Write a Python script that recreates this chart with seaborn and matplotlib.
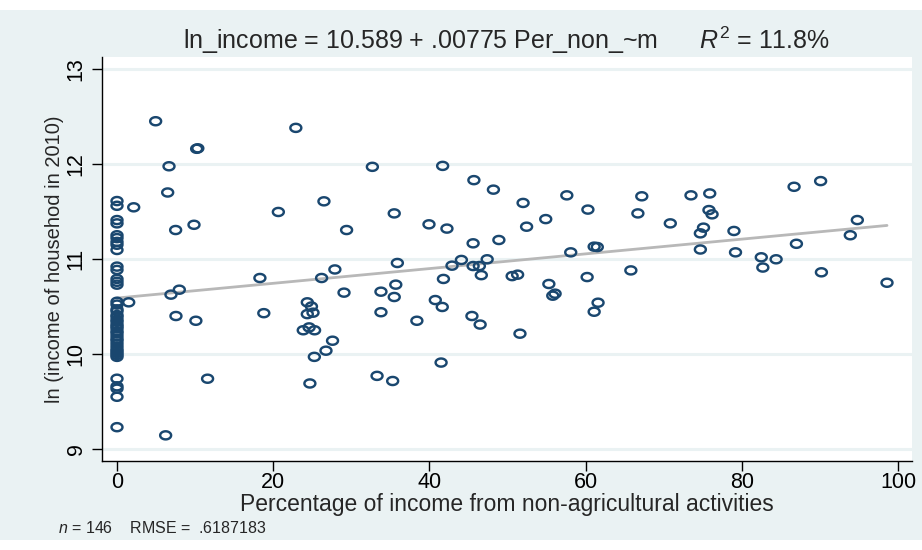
import numpy as np
import pandas as pd
import matplotlib
matplotlib.use("Agg")
import matplotlib.pyplot as plt
from matplotlib.path import Path
from matplotlib.patches import Rectangle
import seaborn as sns

# Households with no non-agricultural income (share = 0)
zero_share_ln_income = [
    11.61, 11.56, 11.41, 11.375, 11.25, 11.22, 11.18, 11.15, 11.095, 10.92,
    10.885, 10.79, 10.76, 10.73, 10.55,
    10.52, 10.47, 10.45, 10.41, 10.39, 10.36, 10.34, 10.31, 10.29, 10.27,
    10.24, 10.22, 10.19, 10.16, 10.14, 10.11, 10.08, 10.05, 10.03, 10.01,
    9.99, 9.97,
    9.74, 9.66, 9.635, 9.55, 9.23,
]

# Households with some non-agricultural income
share_nonag = [
    4.95, 22.9, 10.2, 10.35, 6.66, 6.49, 2.14, 20.66, 26.5, 7.51,
    9.86, 27.9, 1.5, 6.91, 7.98, 18.3, 26.2, 7.55, 10.1, 18.8,
    24.37, 24.9, 24.37, 25.1, 23.85, 24.6, 25.3, 27.6, 26.76, 25.27,
    24.7, 11.6, 6.23, 32.7, 41.7, 45.7, 48.2, 57.6, 52.0, 35.5,
    54.9, 29.4, 39.95, 42.25, 52.45, 45.6, 48.9, 58.1, 35.9, 42.9,
    44.1, 47.4, 45.6, 46.4, 46.65, 50.6, 51.3, 41.8, 29.07, 33.8,
    35.7, 35.5, 40.76, 41.65, 33.8, 38.4, 45.45, 46.5, 51.6, 55.3,
    55.8, 56.1, 41.5, 33.3, 35.3, 60.3, 67.2, 66.7, 73.5, 75.9,
    75.8, 76.2, 70.85, 75.1, 74.7, 79.0, 86.7, 90.1, 94.8, 93.9,
    87.0, 74.7, 79.2, 61.1, 61.5, 82.5, 84.4, 82.7, 60.2, 65.8,
    90.2, 98.6, 61.6, 61.1,
]
nonzero_ln_income = [
    12.45, 12.38, 12.16, 12.165, 11.976, 11.70, 11.544, 11.495, 11.607, 11.305,
    11.36, 10.89, 10.544, 10.625, 10.677, 10.80, 10.80, 10.40, 10.35, 10.43,
    10.544, 10.50, 10.42, 10.435, 10.25, 10.28, 10.25, 10.14, 10.035, 9.97,
    9.69, 9.74, 9.144, 11.97, 11.98, 11.83, 11.73, 11.67, 11.59, 11.48,
    11.42, 11.305, 11.365, 11.32, 11.34, 11.165, 11.20, 11.07, 10.958, 10.93,
    10.99, 10.997, 10.926, 10.926, 10.83, 10.82, 10.835, 10.79, 10.646, 10.656,
    10.73, 10.60, 10.568, 10.495, 10.44, 10.35, 10.40, 10.31, 10.214, 10.737,
    10.614, 10.635, 9.91, 9.77, 9.716, 11.52, 11.66, 11.48, 11.67, 11.69,
    11.515, 11.47, 11.375, 11.33, 11.27, 11.295, 11.76, 11.82, 11.41, 11.25,
    11.16, 11.10, 11.07, 11.13, 11.126, 11.018, 10.997, 10.91, 10.81, 10.88,
    10.86, 10.75, 10.54, 10.445,
]

# Fitted regression reported in the title
intercept = 10.589
slope = 0.00775
r_squared = 11.8
n_obs = 146
rmse = ".6187183"

x_ticks = [0, 20, 40, 60, 80, 100]
y_ticks = [9, 10, 11, 12, 13]

df = pd.DataFrame({
    "share": [0.0] * len(zero_share_ln_income) + share_nonag,
    "ln_income": zero_share_ln_income + nonzero_ln_income,
})
fit_x = np.array([0.0, max(df["share"])])
fit = pd.DataFrame({"share": fit_x, "ln_income": intercept + slope * fit_x})

sns.set_theme(style="white")
plt.rcParams["font.family"] = ["Liberation Sans", "DejaVu Sans"]
plt.rcParams["mathtext.fontset"] = "custom"
plt.rcParams["mathtext.rm"] = "Liberation Sans"
plt.rcParams["mathtext.it"] = "Liberation Sans:italic"

BG = "#EAF2F3"
NAVY = "#1A476F"

fig = plt.figure(figsize=(9.22, 5.5), dpi=100, facecolor="white")
# Graph region background band
fig.patches.append(Rectangle((0, 10 / 550), 1, 530 / 550, transform=fig.transFigure,
                             facecolor=BG, edgecolor="none", zorder=-10))

ax = fig.add_axes([102 / 922, 1 - 461 / 550, (912 - 102) / 922, (461 - 57) / 550])
ax.set_facecolor("white")

# Flattened ring marker, wider than tall
t = np.linspace(0, 2 * np.pi, 60)
ring = Path(np.column_stack([np.cos(t), 0.74 * np.sin(t)]), closed=True)

sns.lineplot(data=fit, x="share", y="ln_income", ax=ax, color="#B8B8B8",
             linewidth=2.0, zorder=2)
sns.scatterplot(data=df, x="share", y="ln_income", ax=ax, marker=ring, s=62,
                facecolor="none", edgecolor=NAVY, linewidth=1.75, zorder=3)

ax.set_xlim(-1.92, 101.8)
ax.set_ylim(8.874, 13.126)
ax.set_xticks(x_ticks)
ax.set_yticks(y_ticks)
ax.set_xticklabels([str(v) for v in x_ticks], fontsize=15.5)
ax.set_yticklabels([str(v) for v in y_ticks], fontsize=15.5, rotation=90, va="center")

for y in y_ticks:
    ax.axhline(y, color=BG, linewidth=2.2, zorder=1)

for side in ["top", "right"]:
    ax.spines[side].set_visible(False)
for side in ["left", "bottom"]:
    ax.spines[side].set_color("black")
    ax.spines[side].set_linewidth(1.0)
ax.tick_params(axis="both", which="major", direction="out", length=7, width=1,
               color="black", labelcolor="black", left=True, bottom=True)
ax.tick_params(axis="x", pad=1)
ax.tick_params(axis="y", pad=4)

ax.set_xlabel("Percentage of income from non-agricultural activities",
              fontsize=16.5, labelpad=0)
ax.set_ylabel("ln (income of househod in 2010)", fontsize=14.5, labelpad=1)

fig.text(506 / 922, 1 - 40 / 550,
         f"ln_income = {intercept:.3f} + {str(slope)[1:]} Per_non_~m      "
         f"$\\it{{R}}^2$ = {r_squared}%",
         ha="center", va="center", fontsize=18)
fig.text(58 / 922, 1 - 528 / 550,
         f"$\\it{{n}}$ = {n_obs}    RMSE =  {rmse}",
         ha="left", va="center", fontsize=11.5)

fig.savefig("out.png", dpi=100, facecolor=fig.get_facecolor())
